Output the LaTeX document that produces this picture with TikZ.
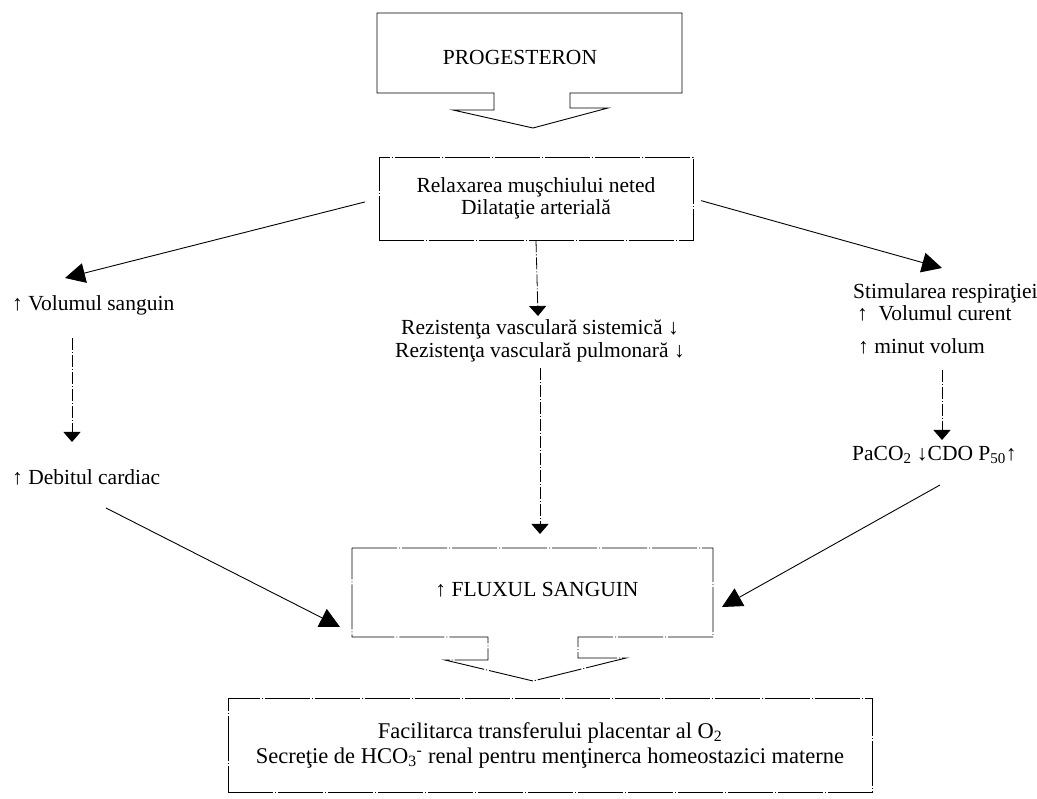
\documentclass[tikz,border=0pt]{standalone}
\usepackage{fontspec}
\setmainfont{Liberation Serif}
\usetikzlibrary{arrows.meta}
\begin{document}
\begin{tikzpicture}[x=1pt,y=-1pt,
  txt/.style={font=\fontsize{21.5}{22}\selectfont, inner sep=0pt},
  bigtxt/.style={font=\fontsize{22.5}{25}\selectfont, inner sep=0pt},
  solidline/.style={line width=0.9pt, draw=black},
  dashbox/.style={line width=0.9pt, draw=black, dash pattern=on 45pt off 2pt on 1pt off 2pt},
  dashconn/.style={line width=0.8pt, draw=black, dash pattern=on 12pt off 2pt on 1pt off 2pt},
  bigtip/.style={-{Triangle[length=20pt,width=20pt]}},
  smalltip/.style={-{Triangle[length=10pt,width=17pt]}},
]
\useasboundingbox (0,0) rectangle (1037,799);

% PROGESTERON block arrow
\draw[solidline] (377,13) -- (682,13) -- (682,93) -- (570,93) -- (570,108) -- (608,108)
  -- (533,128) -- (453,110) -- (494,110) -- (494,93) -- (377,93) -- cycle;
\node[txt] (prog) at (520,57) {PROGESTERON};

% Relaxarea box
\node[txt, draw, dashbox, minimum width=314pt, minimum height=83pt, align=center]
  (relax) at (536,198.5) {Relaxarea muşchiului neted\\Dilataţie arterială};

% left column
\node[txt, anchor=west] (vol) at (12,305) {↑ Volumul sanguin};
\node[txt, anchor=west] (deb) at (12,477) {↑ Debitul cardiac};

% middle
\node[txt, align=center] (rez) at (540,341)
  {Rezistenţa vasculară sistemică ↓\\[1pt]Rezistenţa vasculară pulmonară ↓};

% right column
\node[txt, align=left, anchor=north west] (stim) at (853,283)
  {Stimularea respiraţiei\\\hspace{4pt}↑\ \ Volumul curent\\[11pt]\hspace{5pt}↑ minut volum};
\node[txt, anchor=west] (pac) at (852,455) {PaCO\textsubscript{2} ↓CDO P\textsubscript{50}↑};

% FLUXUL block arrow
\draw[dashbox] (352,548) -- (713,548) -- (713,637) -- (578,637) -- (578,658) -- (626,658)
  -- (533,681) -- (445,660) -- (488,660) -- (488,637) -- (352,637) -- cycle;
\node[txt] (flux) at (537,590) {↑ FLUXUL SANGUIN};

% bottom box
\node[bigtxt, draw, dashbox, minimum width=644pt, minimum height=94pt, align=center]
  (fac) at (550,745)
  {Facilitarca transferului placentar al O\textsubscript{2}\\
   Secreţie de HCO\textsubscript{3}\textsuperscript{-} renal pentru menţinerca homeostazici materne};

% connector end points
\coordinate (tVol) at (65,278);
\coordinate (tStim) at (942,268);
\coordinate (tRez) at (538,316);
\coordinate (sVolDown) at (72,338);
\coordinate (tDeb) at (72,442);
\coordinate (sRezDown) at (540,368);
\coordinate (tFluxTop) at (540,534);
\coordinate (sStimDown) at (942,370);
\coordinate (tPac) at (942,440);
\coordinate (sDeb) at (106,508);
\coordinate (tFluxL) at (340,627);
\coordinate (sPac) at (940,485);
\coordinate (tFluxR) at (722,607);

% connectors
\draw[solidline, bigtip, shorten <=14pt] (relax.west) -- (tVol);
\draw[solidline, bigtip, shorten <=8pt] (relax.east) -- (tStim);
\draw[dashconn, smalltip] (relax.south) -- (tRez);
\draw[dashconn, smalltip] (sVolDown) -- (tDeb);
\draw[dashconn, smalltip] (sRezDown) -- (tFluxTop);
\draw[dashconn, smalltip] (sStimDown) -- (tPac);
\draw[solidline, bigtip] (sDeb) -- (tFluxL);
\draw[solidline, bigtip] (sPac) -- (tFluxR);
\end{tikzpicture}
\end{document}
